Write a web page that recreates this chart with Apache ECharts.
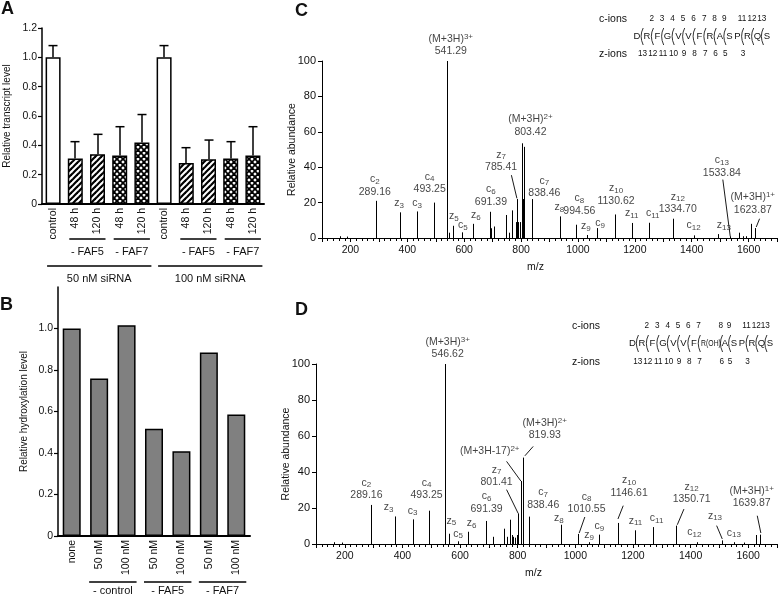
<!DOCTYPE html>
<html><head><meta charset="utf-8">
<script src="https://cdn.jsdelivr.net/npm/echarts/dist/echarts.min.js"></script>
<style>html,body{margin:0;padding:0;background:#fff}#c{width:778px;height:594px}</style>
</head><body><div id="c"></div>
<script>
// ---------- Panel A ----------
const aCategories = ['control','48 h','120 h','48 h','120 h','control','48 h','120 h','48 h','120 h'];
const aValues = [1.0,0.31,0.34,0.33,0.42,1.0,0.28,0.305,0.31,0.33];
const aErrors = [1.08,0.425,0.475,0.527,0.61,1.08,0.384,0.436,0.425,0.527];
const aFills = ['plain','hatch','hatch','cross','cross','plain','hatch','hatch','cross','cross'];
const aGroups1 = [[1,2,'- FAF5'],[3,4,'- FAF7'],[6,7,'- FAF5'],[8,9,'- FAF7']];
const aGroups2 = [[0,4,'50 nM siRNA'],[5,9,'100 nM siRNA']];
const aTicks = [0,0.2,0.4,0.6,0.8,1.0,1.2];
// ---------- Panel B ----------
const bCategories = ['none','50 nM','100 nM','50 nM','100 nM','50 nM','100 nM'];
const bValues = [1.0,0.759,1.016,0.517,0.409,0.884,0.586];
const bGroups = [[1,2,'- control'],[3,4,'- FAF5'],[5,6,'- FAF7']];
const bTicks = [0,0.2,0.4,0.6,0.8,1.0,1.2];
// ---------- Panel C (m/z, relative abundance) ----------
const cPeaks = [[162,1],[189,0.8],[289.16,21],[373.7,14.5],[435.6,15],[493.25,20],[541.29,100],[545,3],
 [559,6.9],[592,3.2],[630.7,8],[691.39,14.8],[695,5.5],[704.6,6.5],[745.5,13],[758.5,3],[768,15.6],
 [782,9],[785.41,22],[790,9],[795,9],[803.42,53.5],[806,22],[811,51.5],[838.46,22],[937,12.2],
 [994.56,7.5],[1032,1.7],[1067,5.6],[1130.62,13.3],[1189,8.5],[1251,8.6],[1334.70,10.9],[1407,1.5],
 [1494,2.2],[1533.84,1],[1566,3],[1581,1],[1592,1],[1610,8],[1623.87,5.6]];
// label: [ion, subscript, superscript, m/z text, anchor m/z, anchor abundance]
const cLabels = [
 ['(M+3H)','','3+','541.29',553,102],['c','2','','289.16',285.6,22.5],['z','3','','',371,16],
 ['c','3','','',434.6,16],['c','4','','493.25',478.6,24],['z','5','','',564,8.6],['c','5','','',595.5,3.6],
 ['z','6','','',641,9.2],['c','6','','691.39',694,17],['z','7','','785.41',730,36.3],
 ['(M+3H)','','2+','803.42',833,56.5],['c','7','','838.46',882,21.6],['z','8','','',934.6,13.7],
 ['c','8','','994.56',1005,11.7],['z','9','','',1028,3],['c','9','','',1078,4.7],
 ['z','10','','1130.62',1134,17.4],['z','11','','',1189,10.3],['c','11','','',1263,10.3],
 ['z','12','','1334.70',1351,12.6],['c','12','','',1407,3.6],['z','13','','',1513,3.6],
 ['c','13','','1533.84',1506,33.4],['(M+3H)','','1+','1623.87',1615,12.3]];
const cLeaders = [[766,35.5,785.4,22.4],[1509.5,33,1535.6,0.9],[1638.7,10.9,1627,6.2]];
// ---------- Panel D ----------
const dPeaks = [[163,1],[190.5,0.8],[289.16,21.7],[373.5,15.3],[435,13.7],[493.25,18.5],[546.62,100],
 [560,5.7],[593,1.5],[629,6.8],[691.39,12.8],[713,4],[753,8.5],[763,4],[773,13.5],[779,5],[785,4],
 [791,3.5],[797,5],[801.41,17],[811,35],[819.93,48],[838.46,15.2],[950,10.7],[1010.55,5.6],[1048,1],
 [1083,5.2],[1146.61,11.7],[1207,7.6],[1269,9.4],[1350.71,10.2],[1421,1],[1509,2],[1550,1],[1585,0.8],
 [1627,5],[1639.87,5.2]];
const dLabels = [
 ['(M+3H)','','3+','546.62',557,102],['c','2','','289.16',275,23.5],['z','3','','',352,16.8],
 ['c','3','','',435,14.9],['c','4','','493.25',483.6,23.5],['z','5','','',570,9.3],['c','5','','',593,2.1],
 ['z','6','','',640,8],['c','6','','691.39',692,16],['z','7','','801.41',726.6,30.7],
 ['(M+3H-17)','','2+','',703,48.2],['(M+3H)','','2+','819.93',894,57],['c','7','','838.46',888.5,18.2],
 ['z','8','','',943,10.7],['c','8','','1010.55',1039,15.7],['z','9','','',1048,1.3],['c','9','','',1083,6.3],
 ['z','10','','1146.61',1187,25],['z','11','','',1209,9.3],['c','11','','',1282,10.7],
 ['z','12','','1350.71',1403.7,21.3],['c','12','','',1413,3],['z','13','','',1484.7,12.1],
 ['c','13','','',1550,2.7],['(M+3H)','','1+','1639.87',1612,19]];
const dLeaders = [[761.4,30.2,801.7,17],[761.4,45.9,811,35],[853.7,54.2,825,49],[1033,15,1013.5,6.1],
 [1166.3,21.3,1148,13.9],[1377,19.4,1354,10.7],[1490.5,10.2,1510,2.8],[1631.5,15.7,1644,6.1]];
const mzTicks = {min:100, max:1700, step:100, labelEvery:200};
const abundTicks = {min:0, max:100, step:20};
// ---------- Sequences ----------
const seqC = ['D','R','F','G','V','V','F','R','A','S','P','R','Q','S'];
const seqCx = [637,647,657.5,667.5,678.5,688.5,699.5,710,720,729.5,737.5,747.5,757.5,767];
const seqD = ['D','R','F','G','V','V','F','R(OH)','A','S','P','R','Q','S'];
const seqDx = [632.5,642,652.5,663,673.5,683.5,694,711,725,734,742,752,761.5,770];
const cIons = [2,3,4,5,6,7,8,9,11,12,13];
const zIons = [13,12,11,10,9,8,7,6,5,3];
const cleavages = [1,2,3,4,5,6,7,8,9,11,12,13];

const FONT = "'Liberation Sans', Arial, sans-serif";
const INK = '#111';

function makePattern(kind){
  const c = document.createElement('canvas'); c.width = 6; c.height = 6;
  const g = c.getContext('2d'); g.fillStyle = '#fff'; g.fillRect(0,0,6,6);
  g.strokeStyle = '#000'; g.lineWidth = kind === 'cross' ? 1.8 : 2.2;
  const ln = (x0,y0,x1,y1)=>{g.beginPath();g.moveTo(x0,y0);g.lineTo(x1,y1);g.stroke();};
  ln(-2,8,8,-2); ln(-5,5,5,-5); ln(1,11,11,1);
  if (kind === 'cross'){ ln(-2,-2,8,8); ln(-5,1,5,11); ln(1,-5,11,5); }
  return c;
}
const patterns = {plain:'#fff', hatch:{image:makePattern('hatch'),repeat:'repeat'}, cross:{image:makePattern('cross'),repeat:'repeat'}};

const RICH = {
  a:{fontSize:10.5, lineHeight:12.5, fontFamily:FONT, color:INK, align:'center'},
  s:{fontSize:8, lineHeight:8, verticalAlign:'bottom', fontFamily:FONT, color:INK, align:'center'},
  p:{fontSize:8, lineHeight:8, verticalAlign:'top', fontFamily:FONT, color:INK, align:'center'}
};
function richText(l){
  let s = '{a|' + l[0] + '}';
  if (l[1]) s += '{s|' + l[1] + '}';
  if (l[2]) s += '{p|' + l[2] + '}';
  if (l[3]) s += '\n{a|' + l[3] + '}';
  return s;
}
const axisTxt = {color:INK, fontFamily:FONT, fontSize:10.5};
const blackLine = (w)=>({show:true, lineStyle:{color:'#000', width:w}});

function catX(idx, data){
  return {gridIndex:idx, type:'category', data:data, axisLine:blackLine(2), axisTick:{show:false},
    splitLine:{show:false}, axisLabel:Object.assign({rotate:90, margin:4, interval:0}, axisTxt)};
}
function fracY(idx, ticks, name, gap, hideMax){
  return {gridIndex:idx, type:'value', min:ticks[0], max:ticks[ticks.length-1], interval:ticks[1]-ticks[0],
    axisLine:blackLine(1.5), axisTick:{show:true, length:4, lineStyle:{color:'#000', width:1.2}},
    splitLine:{show:false}, name:name, nameLocation:'middle', nameGap:gap, nameMoveOverlap:false,
    nameTextStyle:{color:INK, fontFamily:FONT, fontSize:10},
    axisLabel:Object.assign({margin:5, showMaxLabel:!hideMax, formatter:v=> v===0 ? '0' : v.toFixed(1)}, axisTxt)};
}
function mzX(idx, shift){
  return {gridIndex:idx, type:'value', min:mzTicks.min, max:mzTicks.max, interval:mzTicks.step,
    axisLine:blackLine(1), axisTick:{show:true, length:4, lineStyle:{color:'#000'}},
    minorTick:{show:true, splitNumber:5, length:3, lineStyle:{color:'#000'}},
    splitLine:{show:false}, minorSplitLine:{show:false},
    name:'m/z', nameLocation:'middle', nameGap:24, nameMoveOverlap:false,
    nameTextStyle:{color:INK, fontFamily:FONT, fontSize:10.5, padding:[0,shift,0,0]},
    axisLabel:Object.assign({margin:7, formatter:v=> v % mzTicks.labelEvery === 0 ? String(v) : ''}, axisTxt)};
}
function abY(idx, gap){
  return {gridIndex:idx, type:'value', min:abundTicks.min, max:abundTicks.max, interval:abundTicks.step,
    axisLine:blackLine(1), axisTick:{show:true, length:4, lineStyle:{color:'#000'}},
    splitLine:{show:false}, name:'Relative abundance', nameLocation:'middle', nameGap:gap, nameMoveOverlap:false,
    nameTextStyle:{color:INK, fontFamily:FONT, fontSize:10.5},
    axisLabel:Object.assign({margin:6}, axisTxt, {fontSize:11})};
}
function peakSeries(ax, peaks){
  return {type:'custom', xAxisIndex:ax, yAxisIndex:ax, data:peaks, encode:{x:0,y:1}, silent:true,
    renderItem:(p, api)=>{
      const m = api.value(0), v = api.value(1);
      const p0 = api.coord([m,0]), p1 = api.coord([m,v]);
      const x = Math.round(p0[0]) + 0.5;
      return {type:'line', shape:{x1:x, y1:p0[1], x2:x, y2:p1[1]}, style:{stroke:'#000', lineWidth:1}};
    }};
}
function labelSeries(ax, labels){
  return {type:'scatter', xAxisIndex:ax, yAxisIndex:ax, symbolSize:0, clip:false, silent:true,
    data:labels.map(l=>({value:[l[4], l[5]], label:{formatter:richText(l)}})),
    label:{show:true, position:'top', distance:0, rich:RICH, color:INK}};
}
function leaderSeries(ax, leaders){
  return {type:'custom', xAxisIndex:ax, yAxisIndex:ax, data:leaders, encode:{x:[0,2], y:[1,3]}, silent:true, clip:false,
    renderItem:(p, api)=>{
      const a = api.coord([api.value(0), api.value(1)]), b = api.coord([api.value(2), api.value(3)]);
      return {type:'line', shape:{x1:a[0], y1:a[1], x2:b[0], y2:b[1]}, style:{stroke:'#000', lineWidth:0.9}};
    }};
}

const chart = echarts.init(document.getElementById('c'), null, {renderer:'canvas'});
chart.setOption({
  animation:false,
  backgroundColor:'#fff',
  grid:[
    {left:42, top:28, width:222, height:176, outerBoundsMode:'none'},
    {left:58, top:287, width:192, height:249, outerBoundsMode:'none'},
    {left:322, top:61, width:455, height:177, outerBoundsMode:'none'},
    {left:316, top:364, width:461, height:180, outerBoundsMode:'none'}
  ],
  xAxis:[catX(0, aCategories), catX(1, bCategories), mzX(2, 28), mzX(3, 26)],
  yAxis:[fracY(0, aTicks, 'Relative transcript level', 30, false),
         fracY(1, bTicks, 'Relative hydroxylation level', 29, true),
         abY(2, 24), abY(3, 24)],
  series:[
    {type:'bar', xAxisIndex:0, yAxisIndex:0, barWidth:15, silent:true,
     itemStyle:{borderColor:'#000', borderWidth:1.5},
     data:aValues.map((v,i)=>({value:v, itemStyle:{color:patterns[aFills[i]]}}))},
    {type:'custom', xAxisIndex:0, yAxisIndex:0, silent:true, encode:{x:0, y:[1,2]},
     data:aErrors.map((e,i)=>[i, aValues[i], e]),
     renderItem:(p, api)=>{
       const b = api.coord([api.value(0), api.value(1)]), t = api.coord([api.value(0), api.value(2)]);
       const x = Math.round(b[0]);
       return {type:'group', children:[
         {type:'line', shape:{x1:x, y1:b[1], x2:x, y2:t[1]}, style:{stroke:'#000', lineWidth:1.5}},
         {type:'line', shape:{x1:x-4.5, y1:t[1], x2:x+4.5, y2:t[1]}, style:{stroke:'#000', lineWidth:1.5}}]};
     }},
    {type:'bar', xAxisIndex:1, yAxisIndex:1, barWidth:18, silent:true,
     itemStyle:{color:'#808080', borderColor:'#000', borderWidth:1.5}, data:bValues},
    peakSeries(2, cPeaks), leaderSeries(2, cLeaders), labelSeries(2, cLabels),
    peakSeries(3, dPeaks), leaderSeries(3, dLeaders), labelSeries(3, dLabels)
  ]
});

// ---------- annotations (group brackets, sequences, panel letters) ----------
const G = [];
function txt(x, y, text, size, opts){
  G.push({type:'text', x:x, y:y, silent:true, style:Object.assign({text:text, fill:INK,
    font:(opts && opts.bold ? 'bold ' : '') + size + 'px ' + FONT, align:'center', verticalAlign:'middle'}, opts && opts.style)});
}
function seg(x1, y1, x2, y2, w){
  G.push({type:'line', silent:true, shape:{x1:x1,y1:y1,x2:x2,y2:y2}, style:{stroke:'#000', lineWidth:w}});
}
const cx = (grid, i)=>chart.convertToPixel({gridIndex:grid}, [i, 0])[0];
aGroups1.forEach(g=>{ const x1 = cx(0,g[0]) - 6, x2 = cx(0,g[1]) + 8; seg(x1,239,x2,239,1.6); txt((x1+x2)/2, 252, g[2], 11); });
aGroups2.forEach(g=>{ const x1 = cx(0,g[0]) - 6, x2 = cx(0,g[1]) + 9.5; seg(x1,266,x2,266,1.6); txt((x1+x2)/2, 279, g[2], 11); });
bGroups.forEach(g=>{ const x1 = cx(1,g[0]) - 10, x2 = cx(1,g[1]) + 10; seg(x1,582,x2,582,1.6); txt((x1+x2)/2, 591, g[2], 11); });

txt(1, 9, 'A', 18, {bold:true, style:{align:'left'}});
txt(0, 305, 'B', 18, {bold:true, style:{align:'left'}});
txt(295, 11, 'C', 18, {bold:true, style:{align:'left'}});
txt(295, 310, 'D', 18, {bold:true, style:{align:'left'}});

function sequence(seq, xs, yLab, ySeq, yZ, xLabel){
  const hw = s => s.length > 1 ? 10 : 3.3;
  seq.forEach((s,i)=>{
    if (s.length > 1) G.push({type:'text', x:xs[i], y:ySeq, scaleX:0.72, silent:true,
      style:{text:s, fill:INK, font:'9.5px ' + FONT, align:'center', verticalAlign:'middle'}});
    else txt(xs[i], ySeq, s, 9.5);
  });
  const bx = k => ((xs[k-1] + hw(seq[k-1])) + (xs[k] - hw(seq[k]))) / 2;
  cleavages.forEach(k=>{
    const x = bx(k);
    G.push({type:'bezierCurve', silent:true, shape:{x1:x+1.2, y1:ySeq-8, cpx1:x-3, cpy1:ySeq, x2:x+1.2, y2:ySeq+9},
      style:{stroke:'#000', lineWidth:0.8, fill:null}});
  });
  cIons.forEach(n=> txt(bx(n) - 0.5, yLab, String(n), 8.2));
  zIons.forEach(n=> txt(bx(14 - n) + 0.5, yZ, String(n), 8.2));
  txt(xLabel, yLab, 'c-ions', 10.5, {style:{align:'left'}});
  txt(xLabel, yZ, 'z-ions', 10.5, {style:{align:'left'}});
}
sequence(seqC, seqCx, 19, 36, 54, 599);
sequence(seqD, seqDx, 326, 343, 362, 572);

chart.setOption({graphic:G});
</script></body></html>
